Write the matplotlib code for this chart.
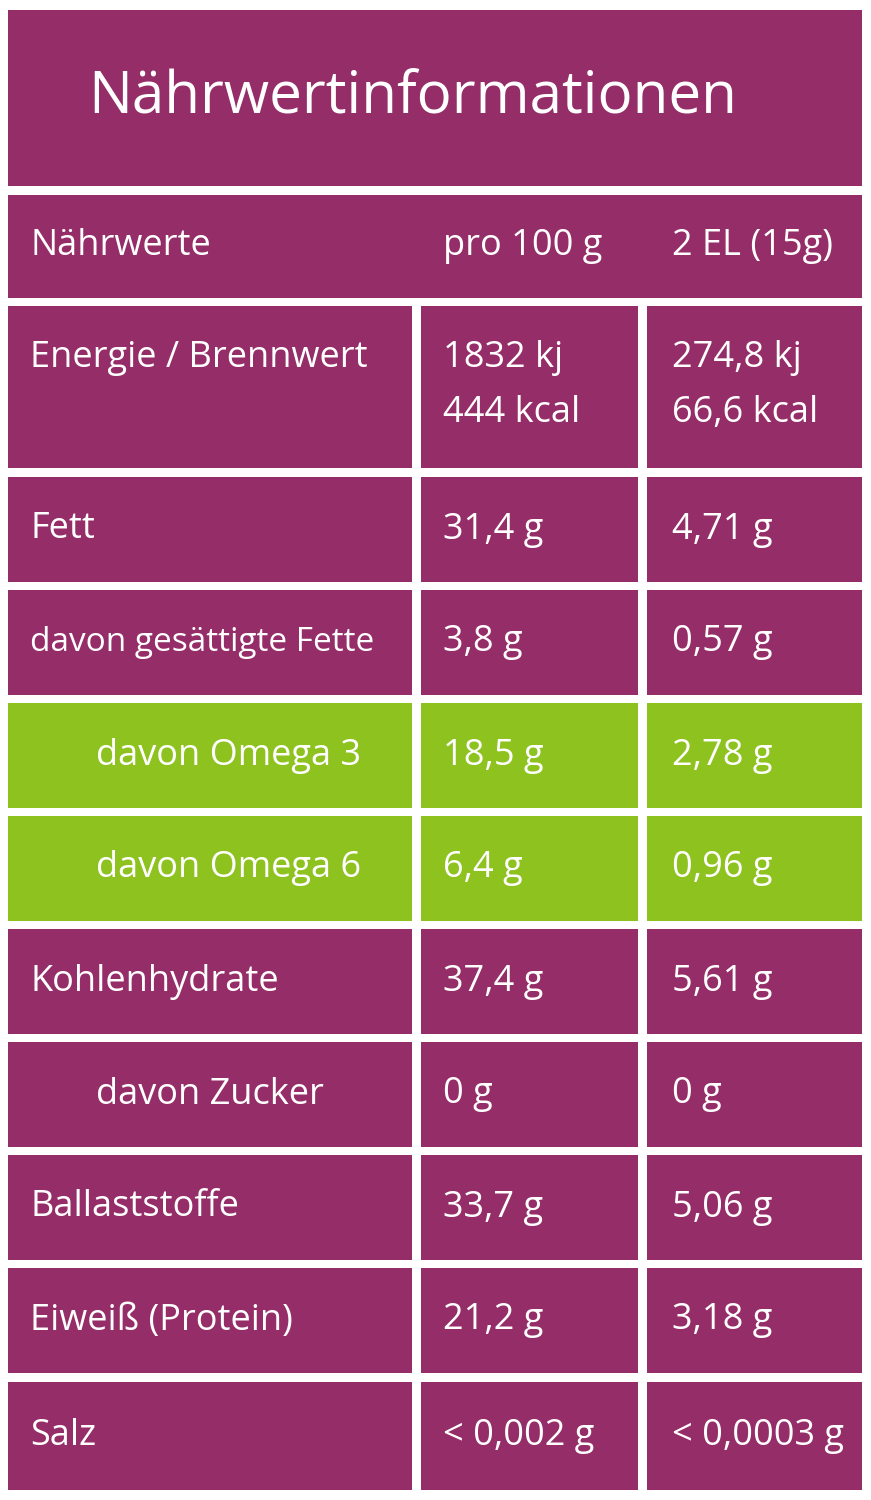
import matplotlib.pyplot as plt
from matplotlib.patches import Rectangle

# Tabellendaten
title = "Nährwertinformationen"
header = ["Nährwerte", "pro 100 g", "2 EL (15g)"]
labels = ["Energie / Brennwert", "Fett", "davon gesättigte Fette", "davon Omega 3",
          "davon Omega 6", "Kohlenhydrate", "davon Zucker", "Ballaststoffe",
          "Eiweiß (Protein)", "Salz"]
per_100g = [["1832 kj", "444 kcal"], ["31,4 g"], ["3,8 g"], ["18,5 g"], ["6,4 g"],
            ["37,4 g"], ["0 g"], ["33,7 g"], ["21,2 g"], ["< 0,002 g"]]
per_portion = [["274,8 kj", "66,6 kcal"], ["4,71 g"], ["0,57 g"], ["2,78 g"], ["0,96 g"],
               ["5,61 g"], ["0 g"], ["5,06 g"], ["3,18 g"], ["< 0,0003 g"]]
indented = [False, False, False, True, True, False, True, False, False, False]
highlight = [False, False, False, True, True, False, False, False, False, False]

PURPLE = "#952d68"
GREEN = "#8dc21f"

# Layout (Pixel)
W, H = 871, 1500
cols = [(8, 412), (421, 638), (647, 862)]
row_tops = [306, 477, 590, 703, 816, 929, 1042, 1155, 1268, 1382]
row_bots = [468, 582, 695, 808, 921, 1034, 1147, 1260, 1373, 1490]

plt.rcParams['font.family'] = 'Open Sans'
fig = plt.figure(figsize=(W / 100, H / 100), dpi=100)
ax = fig.add_axes([0, 0, 1, 1])
ax.set_xlim(0, W)
ax.set_ylim(H, 0)
ax.axis('off')

def box(x0, x1, y0, y1, color):
    ax.add_patch(Rectangle((x0, y0), x1 - x0, y1 - y0, color=color, lw=0))

# Titel
box(8, 862, 10, 186, PURPLE)
ax.text(88, 98, title, color="white", fontsize=42, va="center", ha="left")

# Kopfzeile
box(8, 862, 195, 298, PURPLE)
for (x0, _), txt, dx in zip(cols, header, [22, 22, 25]):
    ax.text(x0 + dx, 246, txt, color="white", fontsize=26, va="center")

for i, lab in enumerate(labels):
    y0, y1 = row_tops[i], row_bots[i]
    color = GREEN if highlight[i] else PURPLE
    for x0, x1 in cols:
        box(x0, x1, y0, y1, color)
    ym = (y0 + y1) / 2 if i else 358
    fs = 24 if lab == "davon gesättigte Fette" else 26
    ax.text(cols[0][0] + (88 if indented[i] else 22), ym, lab, color="white",
            fontsize=fs, va="center")
    for k, (a, b) in enumerate(zip(per_100g[i], per_portion[i])):
        yy = ym + 55 * k
        ax.text(cols[1][0] + 22, yy, a, color="white", fontsize=26, va="center")
        ax.text(cols[2][0] + 25, yy, b, color="white", fontsize=26, va="center")

fig.savefig("out.png", dpi=100, facecolor="white")
